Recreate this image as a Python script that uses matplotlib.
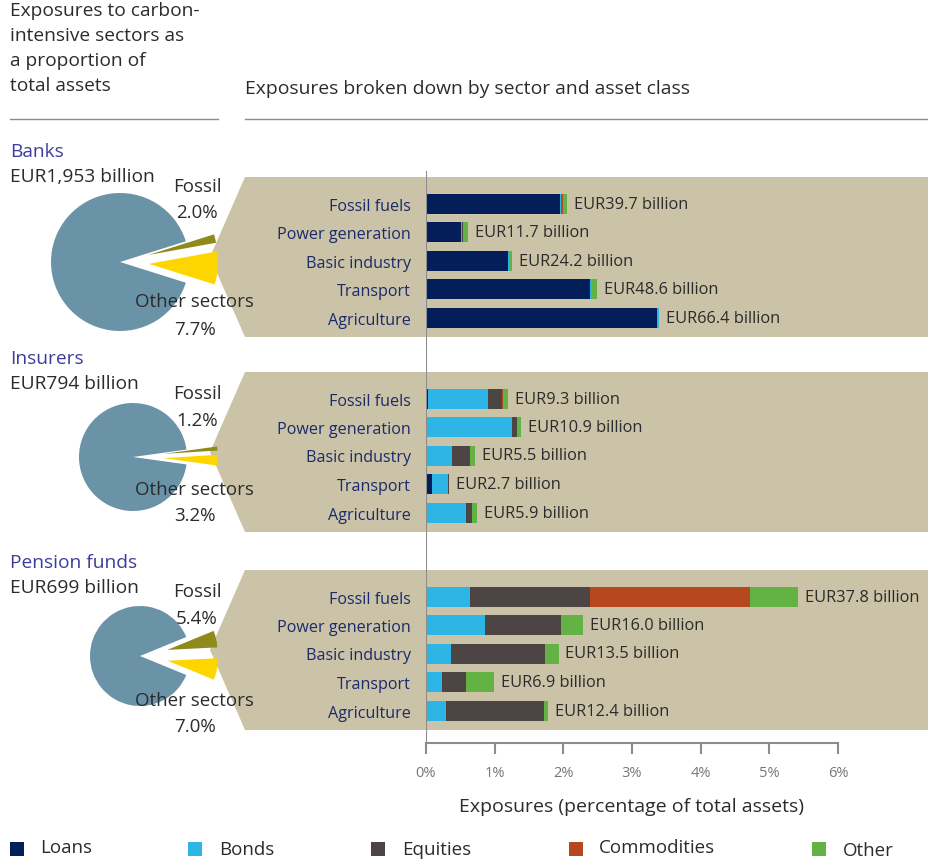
import matplotlib
matplotlib.use("Agg")
import matplotlib.pyplot as plt
from matplotlib.patches import Polygon, Rectangle

plt.rcParams["font.family"] = ["Open Sans", "DejaVu Sans"]

W, H = 929, 862

# --- data -------------------------------------------------------------
groups = ["Banks", "Insurers", "Pension funds"]
total_assets = [1953, 794, 699]          # EUR billion
fossil_share = [2.0, 1.2, 5.4]           # % of total assets
other_share = [7.7, 3.2, 7.0]            # % of total assets

sectors = ["Fossil fuels", "Power generation", "Basic industry", "Transport", "Agriculture"]
asset_classes = ["Loans", "Bonds", "Equities", "Commodities", "Other"]

# % of total assets, per sector
banks_loans = [1.95, 0.51, 1.20, 2.39, 3.36]
banks_bonds = [0.01, 0.02, 0.015, 0.02, 0.04]
banks_equities = [0.0, 0.005, 0.0, 0.0, 0.0]
banks_commodities = [0.03, 0.0, 0.0, 0.0, 0.0]
banks_other = [0.06, 0.08, 0.035, 0.08, 0.0]
banks_eur = [39.7, 11.7, 24.2, 48.6, 66.4]

insurers_loans = [0.035, 0.02, 0.0, 0.09, 0.0]
insurers_bonds = [0.87, 1.23, 0.38, 0.23, 0.58]
insurers_equities = [0.20, 0.07, 0.26, 0.01, 0.09]
insurers_commodities = [0.015, 0.0, 0.0, 0.0, 0.0]
insurers_other = [0.07, 0.06, 0.07, 0.01, 0.07]
insurers_eur = [9.3, 10.9, 5.5, 2.7, 5.9]

pension_loans = [0.0, 0.0, 0.0, 0.0, 0.0]
pension_bonds = [0.64, 0.86, 0.36, 0.23, 0.29]
pension_equities = [1.75, 1.11, 1.38, 0.35, 1.43]
pension_commodities = [2.33, 0.0, 0.0, 0.0, 0.0]
pension_other = [0.70, 0.32, 0.19, 0.41, 0.06]
pension_eur = [37.8, 16.0, 13.5, 6.9, 12.4]

xticks = [0, 1, 2, 3, 4, 5, 6]

segments = [
    [banks_loans, banks_bonds, banks_equities, banks_commodities, banks_other],
    [insurers_loans, insurers_bonds, insurers_equities, insurers_commodities, insurers_other],
    [pension_loans, pension_bonds, pension_equities, pension_commodities, pension_other],
]
eur_totals = [banks_eur, insurers_eur, pension_eur]

# --- style / layout ---------------------------------------------------
CLASS_COLORS = ["#041e5a", "#2db5e5", "#4d4444", "#b5481e", "#63b244"]
PIE_COLORS = ["#ffd500", "#8e8a1c", "#6a93a8"]   # other, fossil, rest
BEIGE = "#cbc3a7"
GRAY = "#8c8c8c"
NAVY = "#1b2a6b"
HEAD = "#3c3c9c"
DARK = "#2b2b2b"

panel_top = [178, 373, 571]
panel_h = 160
pie_center = [(120, 263), (133, 458), (140, 657)]
pie_r = [69, 54, 50]
pie_explode = [0.42, 0.57, 0.56]
head_y = [152, 359, 563]
label_y = [(187, 213, 302, 330), (394, 421, 490, 516), (592, 619, 701, 727)]


def frac(x0, y0, x1, y1):
    """pixel box (top-left origin) -> figure fraction rect"""
    return [x0 / W, 1 - y1 / H, (x1 - x0) / W, (y1 - y0) / H]


fig = plt.figure(figsize=(W / 100, H / 100), dpi=100)

# background: panels and rules
bg = fig.add_axes([0, 0, 1, 1])
bg.set_xlim(0, W)
bg.set_ylim(H, 0)
bg.axis("off")
for top in panel_top:
    mid = top + panel_h / 2
    bg.add_patch(Polygon([(210, mid), (245, top), (W, top), (W, top + panel_h),
                          (245, top + panel_h)], closed=True, facecolor=BEIGE,
                         edgecolor="none"))
bg.plot([10, 218], [120, 120], color=GRAY, lw=1)
bg.plot([245, 927], [120, 120], color=GRAY, lw=1)

# pies
for g in range(3):
    cx, cy = pie_center[g]
    r = pie_r[g]
    half = 1.7 * r
    pax = fig.add_axes(frac(cx - half, cy - half, cx + half, cy + half))
    vals = [other_share[g], fossil_share[g], 100 - other_share[g] - fossil_share[g]]
    e = pie_explode[g]
    pax.pie(vals, colors=PIE_COLORS, explode=[e, e, 0],
            startangle=-(other_share[g] + fossil_share[g]) * 3.6 / 2,
            counterclock=True, wedgeprops=dict(linewidth=0))
    pax.set_xlim(-1.7, 1.7)
    pax.set_ylim(-1.7, 1.7)
    pax.set_aspect("equal")
    pax.axis("off")

# bars
bar_top, bar_bot = 172, 744
ax = fig.add_axes(frac(426, bar_top, 838, bar_bot))
ax.patch.set_alpha(0)
ax.set_xlim(0, 6)
ax.set_ylim(bar_bot, bar_top)
ypos, ylabels = [], []
for g in range(3):
    ys = [panel_top[g] + 26.5 + i * 28.5 for i in range(len(sectors))]
    left = [0.0] * len(sectors)
    for k, vals in enumerate(segments[g]):
        ax.barh(ys, vals, left=left, height=20, color=CLASS_COLORS[k], linewidth=0,
                label=asset_classes[k] if g == 0 else None)
        left = [a + b for a, b in zip(left, vals)]
    for y, tot, eur in zip(ys, left, eur_totals[g]):
        ax.annotate(f"EUR{eur:.1f} billion", (tot, y), xytext=(5, 0),
                    textcoords="offset points", va="center", ha="left",
                    fontsize=11.8, color=DARK, annotation_clip=False)
    ypos += ys
    ylabels += sectors

ax.set_yticks(ypos)
ax.set_yticklabels(ylabels, fontsize=11.6, color=NAVY)
ax.tick_params(axis="y", length=0, pad=11)
ax.axvline(0, color=GRAY, lw=1.5)
for s in ("top", "right", "left"):
    ax.spines[s].set_visible(False)
ax.spines["bottom"].set_color(GRAY)
ax.spines["bottom"].set_linewidth(1.5)
ax.set_xticks(xticks)
ax.set_xticklabels([f"{t}%" for t in xticks], fontsize=10.5, color="#777777")
ax.tick_params(axis="x", direction="out", length=8, width=1.5, color=GRAY, pad=8)
ax.set_xlabel("Exposures (percentage of total assets)", fontsize=14, color=DARK,
              labelpad=12)

# overlay texts
top = fig.add_axes([0, 0, 1, 1])
top.set_xlim(0, W)
top.set_ylim(H, 0)
top.axis("off")
top.patch.set_alpha(0)

top.text(10, 2, "Exposures to carbon-\nintensive sectors as\na proportion of\ntotal assets",
         fontsize=13.8, color=DARK, va="top", ha="left", linespacing=1.5)
top.text(245, 89, "Exposures broken down by sector and asset class", fontsize=13.9,
         color=DARK, va="center", ha="left")

for g in range(3):
    top.text(10, head_y[g], groups[g], fontsize=13.8, color=HEAD, va="center")
    top.text(10, head_y[g] + 25, f"EUR{total_assets[g]:,} billion", fontsize=13.8,
             color=DARK, va="center")
    fy, fpy, oy, opy = label_y[g]
    top.text(197, fy, "Fossil", fontsize=13.5, color=DARK, ha="center", va="center")
    top.text(197, fpy, f"{fossil_share[g]:.1f}%", fontsize=13.5, color=DARK,
             ha="center", va="center")
    top.text(194, oy, "Other sectors", fontsize=13.5, color=DARK, ha="center", va="center")
    top.text(195, opy, f"{other_share[g]:.1f}%", fontsize=13.5, color=DARK,
             ha="center", va="center")

# legend
leg_sq_x = [10, 188, 371, 569, 812]
leg_txt_x = [40, 219, 402, 599, 843]
leg_txt_y = [848, 850, 850, 848, 851]
for k in range(len(asset_classes)):
    top.add_patch(Rectangle((leg_sq_x[k], 843), 14, 14, facecolor=CLASS_COLORS[k],
                            edgecolor="none"))
    top.text(leg_txt_x[k], leg_txt_y[k], asset_classes[k], fontsize=13.5, color=DARK,
             va="center", ha="left")

fig.savefig("out.png", dpi=100)
